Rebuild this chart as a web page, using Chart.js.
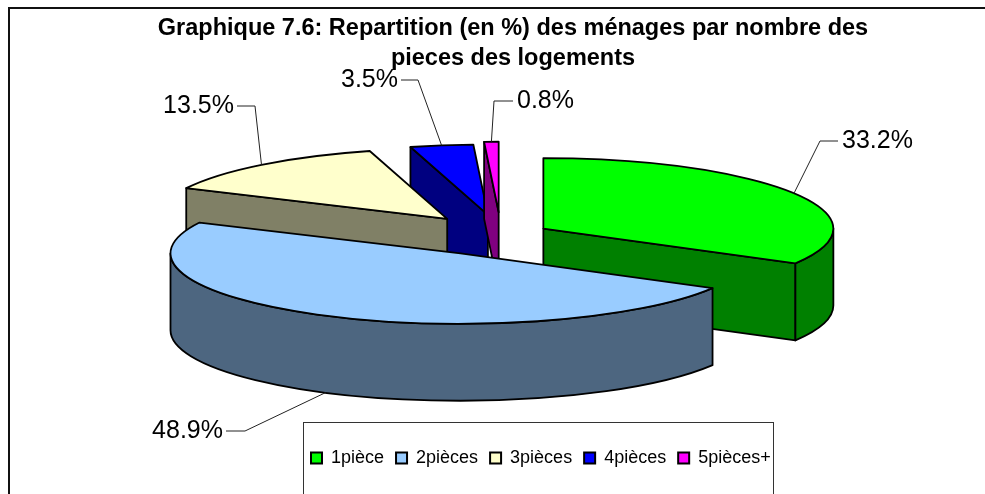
<!DOCTYPE html>
<html>
<head>
<meta charset="utf-8">
<script src="https://cdn.jsdelivr.net/npm/chart.js@4"></script>
<style>
html, body { margin: 0; padding: 0; background: #fff; }
#wrap { width: 985px; height: 494px; }
</style>
</head>
<body>
<div id="wrap"><canvas id="chart" width="985" height="494"></canvas></div>
<script>
// DATA
const categories = ["1pièce", "2pièces", "3pièces", "4pièces", "5pièces+"];
const shares = [33.2, 48.9, 13.5, 3.5, 0.8];
const titleLines = ["Graphique 7.6: Repartition (en %) des ménages par nombre des", "pieces des logements"];

// STYLE
const colors = ["#00ff00", "#99ccff", "#ffffcc", "#0000ff", "#ff00ff"];
const sideColors = ["#008000", "#4d6680", "#808066", "#000080", "#800080"];
const explode = [49, 87, 84, 82, 92];
const drawOrder = [3, 4, 2, 0, 1];
const leaders = [[820, 141, 838, 141], [245, 431, 226, 431], [255, 106, 237, 106], [418, 80, 401, 80], [494, 101, 513, 101]];
const labelAlign = ["left", "right", "right", "right", "left"];
const tilt = 0.243;
const depth = 77;
const font = "'Liberation Sans', Arial, sans-serif";

// pie tilted in 3d, angles and radius come from the arc elements of the chart
const tiltedPie = {
	id: "tiltedPie",
	afterLayout(chart) {
		const { legend, titleBlock } = chart;
		legend.left = 299;
		legend.right = 985;
		legend.top = 437;
		legend.bottom = 494;
		titleBlock.left = 41;
		titleBlock.right = 985;
	},
	beforeDraw(chart) {
		const { ctx } = chart;
		ctx.save();
		ctx.strokeStyle = "#111";
		ctx.lineWidth = 2;
		ctx.strokeRect(9, 8, 1000, 600);
		ctx.lineWidth = 1;
		ctx.strokeStyle = "#333";
		ctx.strokeRect(303.5, 422.5, 470, 100);
		ctx.restore();
	},
	beforeDatasetDraw(chart, args) {
		const { ctx } = chart;
		const arcs = args.meta.data;
		const centers = arcs.map((arc, i) => {
			const mid = (arc.startAngle + arc.endAngle) / 2;
			return { x: arc.x + Math.cos(mid) * explode[i], y: arc.y + Math.sin(mid) * explode[i] * tilt };
		});
		ctx.save();
		ctx.lineJoin = "round";
		ctx.lineWidth = 1.8;
		ctx.strokeStyle = "#000";
		drawOrder.forEach((i) => {
			const arc = arcs[i];
			const { x, y } = centers[i];
			const r = arc.outerRadius;
			const rim = (a) => ({ x: x + Math.cos(a) * r, y: y + Math.sin(a) * r * tilt });
			ctx.fillStyle = sideColors[i];
			// cut faces, only the ones turned to the viewer
			[[arc.startAngle, Math.cos(arc.startAngle) < 0], [arc.endAngle, Math.cos(arc.endAngle) > 0]].forEach(([a, visible]) => {
				if (!visible) return;
				const p = rim(a);
				ctx.beginPath();
				ctx.moveTo(x, y);
				ctx.lineTo(p.x, p.y);
				ctx.lineTo(p.x, p.y + depth);
				ctx.lineTo(x, y + depth);
				ctx.closePath();
				ctx.fill();
				ctx.stroke();
			});
			// outer wall, front half of the ellipse only
			const from = Math.max(arc.startAngle, 0);
			const to = Math.min(arc.endAngle, Math.PI);
			if (to > from) {
				ctx.beginPath();
				ctx.ellipse(x, y, r, r * tilt, 0, from, to);
				ctx.ellipse(x, y + depth, r, r * tilt, 0, to, from, true);
				ctx.closePath();
				ctx.fill();
				ctx.stroke();
			}
			// top
			ctx.fillStyle = arc.options.backgroundColor;
			ctx.beginPath();
			ctx.moveTo(x, y);
			ctx.ellipse(x, y, r, r * tilt, 0, arc.startAngle, arc.endAngle);
			ctx.closePath();
			ctx.fill();
			ctx.stroke();
		});
		// data labels with their leader lines
		ctx.lineWidth = 1;
		ctx.strokeStyle = "#222";
		ctx.fillStyle = "#000";
		ctx.font = "25px " + font;
		ctx.textBaseline = "middle";
		arcs.forEach((arc, i) => {
			const mid = (arc.startAngle + arc.endAngle) / 2;
			const front = i === 1 ? depth : 0;
			const [ex, ey, tx, ty] = leaders[i];
			ctx.beginPath();
			ctx.moveTo(centers[i].x + Math.cos(mid) * arc.outerRadius, centers[i].y + Math.sin(mid) * arc.outerRadius * tilt + front);
			ctx.lineTo(ex, ey);
			ctx.lineTo(tx, ty);
			ctx.stroke();
			ctx.textAlign = labelAlign[i];
			ctx.fillText(shares[i].toFixed(1) + "%", tx + (labelAlign[i] === "left" ? 4 : -3), ty);
		});
		ctx.restore();
		return false;
	},
};

new Chart(document.getElementById("chart"), {
	type: "pie",
	data: {
		labels: categories,
		datasets: [{
			data: shares,
			radius: 290,
			backgroundColor: colors,
			borderColor: "#000",
			borderWidth: 2,
		}],
	},
	options: {
		responsive: false,
		animation: false,
		layout: { padding: { left: 17, bottom: 60 } },
		plugins: {
			tooltip: { enabled: false },
			title: {
				display: true,
				text: titleLines,
				color: "#000",
				font: { family: font, size: 23.5, weight: "bold", lineHeight: 1.28 },
				padding: { top: 13, bottom: 2 },
			},
			legend: {
				position: "bottom",
				align: "start",
				labels: {
					color: "#000",
					font: { family: font, size: 18 },
					boxWidth: 11,
					boxHeight: 11,
					padding: 12,
				},
			},
		},
	},
	plugins: [tiltedPie],
});
</script>
</body>
</html>
